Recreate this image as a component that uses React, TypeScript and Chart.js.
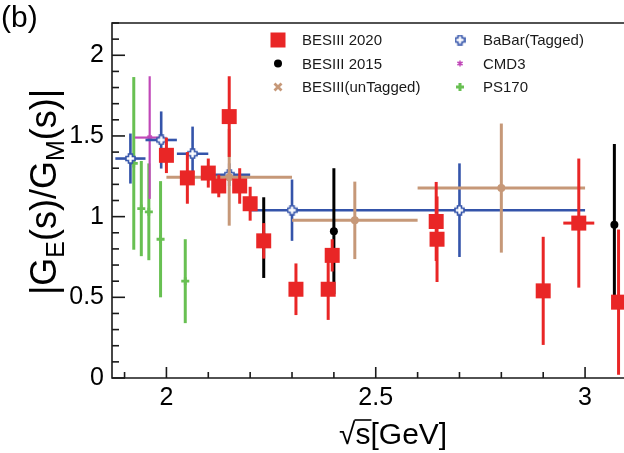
import React, { useEffect, useRef } from 'react';
import { Chart, registerables } from 'chart.js';

Chart.register(...registerables);

const FONT = '"Liberation Sans", Arial, Helvetica, sans-serif';

// axis ranges and tick labels
const X_MIN = 1.87;
const X_MAX = 3.093;
const Y_MIN = 0;
const Y_MAX = 2.2;
const X_TICKS = [2, 2.5, 3];
const Y_TICKS = [0, 0.5, 1, 1.5, 2];

// BESIII 2020
const bes20X = [2.0, 2.05, 2.1, 2.125, 2.15, 2.175, 2.2, 2.2324, 2.3094, 2.3864, 2.396, 2.6444, 2.6464, 2.9, 2.985, 3.08];
const bes20Y = [1.38, 1.24, 1.27, 1.19, 1.62, 1.19, 1.08, 0.85, 0.55, 0.55, 0.76, 0.97, 0.86, 0.54, 0.96, 0.47];
const bes20Err = [0.11, 0.16, 0.09, 0.07, 0.25, 0.11, 0.105, 0.11, 0.16, 0.19, 0.1, 0.245, 0.265, 0.335, 0.4, 0.45];
const bes20XErr = [0, 0, 0, 0, 0, 0, 0, 0, 0, 0, 0, 0, 0, 0, 0.037, 0];

// BESIII 2015
const bes15X = [2.2324, 2.4, 3.07];
const bes15Y = [0.87, 0.91, 0.95];
const bes15Err = [0.25, 0.39, 0.5];

// BESIII (unTagged)
const untagX = [2.15, 2.45, 2.8];
const untagY = [1.244, 0.977, 1.177];
const untagErr = [0.3, 0.24, 0.4];
const untagXErr = [0.15, 0.15, 0.2];

// BaBar (Tagged)
const babarX = [1.914, 1.9875, 2.0625, 2.15, 2.3, 2.7];
const babarY = [1.36, 1.475, 1.39, 1.26, 1.04, 1.04];
const babarErr = [0.155, 0.177, 0.168, 0.07, 0.19, 0.29];
const babarXErr = [0.036, 0.0375, 0.0375, 0.05, 0.1, 0.3];

// CMD3
const cmd3X = [1.96];
const cmd3Y = [1.49];
const cmd3Err = [0.38];
const cmd3XErr = [0.035];

// PS170
const ps170X = [1.922, 1.94, 1.958, 1.986, 2.045];
const ps170Y = [1.33, 1.05, 1.03, 0.86, 0.6];
const ps170Err = [0.535, 0.295, 0.3, 0.36, 0.26];

const LEGEND_LABELS = ['BESIII 2020', 'BESIII 2015', 'BESIII(unTagged)', 'BaBar(Tagged)', 'CMD3', 'PS170'];

const RED = 'rgb(233,38,38)';
const BLACK = '#000000';
const TAN = 'rgb(198,152,120)';
const BLUE = 'rgb(52,84,170)';
const MAGENTA = 'rgb(192,72,184)';
const GREEN = 'rgb(104,192,82)';

function pts(xs: number[], ys: number[]) {
  return xs.map((x, i) => ({ x, y: ys[i] }));
}

function makeOpenCross(color: string, size: number) {
  const c = document.createElement('canvas');
  c.width = size;
  c.height = size;
  const g = c.getContext('2d') as CanvasRenderingContext2D;
  const s = size;
  const a = s * 0.18;
  const m = s / 2;
  const e = 1;
  g.beginPath();
  g.moveTo(m - a, e);
  g.lineTo(m + a, e);
  g.lineTo(m + a, m - a);
  g.lineTo(s - e, m - a);
  g.lineTo(s - e, m + a);
  g.lineTo(m + a, m + a);
  g.lineTo(m + a, s - e);
  g.lineTo(m - a, s - e);
  g.lineTo(m - a, m + a);
  g.lineTo(e, m + a);
  g.lineTo(e, m - a);
  g.lineTo(m - a, m - a);
  g.closePath();
  g.fillStyle = '#ffffff';
  g.fill();
  g.strokeStyle = color;
  g.lineWidth = 1.6;
  g.stroke();
  return c;
}

const errorBarPlugin = {
  id: 'errbars',
  beforeDatasetDraw(chart: any, args: any) {
    const ds: any = chart.data.datasets[args.index];
    if (!ds.errY) return;
    const { ctx, chartArea } = chart;
    const xs = chart.scales.x;
    const ys = chart.scales.y;
    ctx.save();
    ctx.beginPath();
    ctx.rect(chartArea.left, chartArea.top, chartArea.right - chartArea.left, chartArea.bottom - chartArea.top);
    ctx.clip();
    ctx.strokeStyle = ds.errColor;
    ctx.lineWidth = ds.errWidth;
    ctx.lineCap = 'butt';
    ds.data.forEach((p: any, i: number) => {
      const px = xs.getPixelForValue(p.x);
      const py = ys.getPixelForValue(p.y);
      const ey = ds.errY[i];
      if (ey) {
        ctx.beginPath();
        ctx.moveTo(px, ys.getPixelForValue(p.y + ey));
        ctx.lineTo(px, ys.getPixelForValue(p.y - ey));
        ctx.stroke();
      }
      const ex = ds.errX ? ds.errX[i] : 0;
      if (ex) {
        ctx.beginPath();
        ctx.moveTo(xs.getPixelForValue(p.x - ex), py);
        ctx.lineTo(xs.getPixelForValue(p.x + ex), py);
        ctx.stroke();
      }
    });
    ctx.restore();
  },
};

const framePlugin = {
  id: 'frame',
  afterDatasetsDraw(chart: any) {
    const { ctx, chartArea } = chart;
    const xs = chart.scales.x;
    const ys = chart.scales.y;
    const L = chartArea.left;
    const R = chartArea.right;
    const T = chartArea.top;
    const B = chartArea.bottom;
    ctx.save();
    ctx.strokeStyle = '#1a1a1a';
    ctx.lineWidth = 1.6;
    ctx.beginPath();
    ctx.moveTo(R + 2, T);
    ctx.lineTo(L, T);
    ctx.lineTo(L, B);
    ctx.lineTo(R + 2, B);
    ctx.stroke();
    // y ticks (inward)
    for (let k = 0; k <= 22; k++) {
      const v = k / 10;
      const py = ys.getPixelForValue(v);
      const major = k % 5 === 0;
      ctx.beginPath();
      ctx.moveTo(L, py);
      ctx.lineTo(L + (major ? 13 : 7), py);
      ctx.stroke();
    }
    // x ticks (inward)
    for (let k = 19; k <= 30; k++) {
      const v = k / 10;
      const px = xs.getPixelForValue(v);
      const major = k % 5 === 0;
      ctx.beginPath();
      ctx.moveTo(px, B);
      ctx.lineTo(px, B - (major ? 11 : 6));
      ctx.stroke();
    }
    ctx.restore();
  },
  afterDraw(chart: any) {
    const { ctx } = chart;
    ctx.save();
    ctx.fillStyle = '#000';
    // panel label
    ctx.font = `30px ${FONT}`;
    ctx.textBaseline = 'middle';
    ctx.textAlign = 'left';
    ctx.fillText('(b)', 1, 19);

    // x title: sqrt(s)[GeV]
    const fx = 30;
    ctx.font = `${fx}px ${FONT}`;
    ctx.textBaseline = 'alphabetic';
    const xBase = 444;
    let xx = 339;
    const wr = ctx.measureText('\u221A').width;
    ctx.fillText('\u221A', xx, xBase);
    xx += wr;
    const ws = ctx.measureText('s').width;
    ctx.fillText('s', xx, xBase);
    ctx.strokeStyle = '#000';
    ctx.lineWidth = 1.6;
    ctx.beginPath();
    ctx.moveTo(xx - 1, xBase - fx * 0.8);
    ctx.lineTo(xx + ws + 1, xBase - fx * 0.8);
    ctx.stroke();
    xx += ws;
    ctx.fillText('[GeV]', xx, xBase);

    // y title |G_E(s)/G_M(s)|
    const fy = 36;
    const fs = 25;
    const parts: [string, boolean][] = [['|G', false], ['E', true], ['(s)/G', false], ['M', true], ['(s)|', false]];
    let total = 0;
    parts.forEach(([t, sub]) => {
      ctx.font = `${sub ? fs : fy}px ${FONT}`;
      total += ctx.measureText(t).width;
    });
    ctx.translate(56, 192);
    ctx.rotate(-Math.PI / 2);
    let tx = -total / 2;
    ctx.textAlign = 'left';
    ctx.textBaseline = 'alphabetic';
    parts.forEach(([t, sub]) => {
      ctx.font = `${sub ? fs : fy}px ${FONT}`;
      ctx.fillText(t, tx, sub ? 8 : 0);
      tx += ctx.measureText(t).width;
    });
    ctx.setTransform(1, 0, 0, 1, 0, 0);

    // legend
    const colX = [278, 460];
    const textX = [302, 483];
    const rowY = [40, 63.5, 87];
    ctx.font = `15px ${FONT}`;
    ctx.textBaseline = 'middle';
    ctx.textAlign = 'left';
    LEGEND_LABELS.forEach((lab, i) => {
      const c = Math.floor(i / 3);
      const r = i % 3;
      const cx = colX[c];
      const cy = rowY[r];
      ctx.fillStyle = '#1a1a1a';
      ctx.fillText(lab, textX[c], cy + 1);
      if (i === 0) {
        ctx.fillStyle = RED;
        ctx.fillRect(cx - 7.5, cy - 7.5, 15, 15);
      } else if (i === 1) {
        ctx.fillStyle = BLACK;
        ctx.beginPath();
        ctx.arc(cx, cy, 4, 0, Math.PI * 2);
        ctx.fill();
      } else if (i === 2) {
        ctx.strokeStyle = TAN;
        ctx.lineWidth = 2.8;
        ctx.beginPath();
        ctx.moveTo(cx - 3.5, cy - 3.5);
        ctx.lineTo(cx + 3.5, cy + 3.5);
        ctx.moveTo(cx + 3.5, cy - 3.5);
        ctx.lineTo(cx - 3.5, cy + 3.5);
        ctx.stroke();
      } else if (i === 3) {
        ctx.drawImage(babarImg, cx - 5.5, cy - 5.5);
      } else if (i === 4) {
        ctx.strokeStyle = MAGENTA;
        ctx.lineWidth = 1.5;
        ctx.beginPath();
        for (let k = 0; k < 3; k++) {
          const a = (k * Math.PI) / 3 + Math.PI / 2;
          ctx.moveTo(cx + 3 * Math.cos(a), cy + 3 * Math.sin(a));
          ctx.lineTo(cx - 3 * Math.cos(a), cy - 3 * Math.sin(a));
        }
        ctx.stroke();
      } else if (i === 5) {
        ctx.strokeStyle = GREEN;
        ctx.lineWidth = 3;
        ctx.beginPath();
        ctx.moveTo(cx - 4, cy);
        ctx.lineTo(cx + 4, cy);
        ctx.moveTo(cx, cy - 4);
        ctx.lineTo(cx, cy + 4);
        ctx.stroke();
      }
    });
    ctx.restore();
  },
};

let babarImg: HTMLCanvasElement;

export default function App() {
  const ref = useRef<HTMLCanvasElement | null>(null);
  useEffect(() => {
    if (!ref.current) return;
    babarImg = makeOpenCross(BLUE, 11);
    const chart = new Chart(ref.current, {
      type: 'scatter',
      data: {
        datasets: [
          {
            label: LEGEND_LABELS[0],
            data: pts(bes20X, bes20Y),
            order: 0,
            pointStyle: 'rect',
            pointRadius: 10.6,
            backgroundColor: RED,
            borderColor: RED,
            borderWidth: 0,
            errY: bes20Err,
            errX: bes20XErr,
            errColor: RED,
            errWidth: 3,
          } as any,
          {
            label: LEGEND_LABELS[1],
            data: pts(bes15X, bes15Y),
            order: 1,
            pointStyle: 'circle',
            pointRadius: 4,
            backgroundColor: BLACK,
            borderColor: BLACK,
            borderWidth: 0,
            errY: bes15Err,
            errColor: BLACK,
            errWidth: 3,
          } as any,
          {
            label: LEGEND_LABELS[2],
            data: pts(untagX, untagY),
            order: 2,
            pointStyle: 'circle',
            pointRadius: 4,
            backgroundColor: TAN,
            borderColor: TAN,
            borderWidth: 0,
            errY: untagErr,
            errX: untagXErr,
            errColor: TAN,
            errWidth: 3,
          } as any,
          {
            label: LEGEND_LABELS[3],
            data: pts(babarX, babarY),
            order: 3,
            pointStyle: makeOpenCross(BLUE, 11),
            pointRadius: 5,
            backgroundColor: BLUE,
            borderColor: BLUE,
            errY: babarErr,
            errX: babarXErr,
            errColor: BLUE,
            errWidth: 2.6,
          } as any,
          {
            label: LEGEND_LABELS[4],
            data: pts(cmd3X, cmd3Y),
            order: 4,
            pointStyle: 'star',
            pointRadius: 3,
            backgroundColor: MAGENTA,
            borderColor: MAGENTA,
            borderWidth: 1.5,
            errY: cmd3Err,
            errX: cmd3XErr,
            errColor: MAGENTA,
            errWidth: 2.2,
          } as any,
          {
            label: LEGEND_LABELS[5],
            data: pts(ps170X, ps170Y),
            order: 5,
            pointStyle: 'cross',
            pointRadius: 4,
            backgroundColor: GREEN,
            borderColor: GREEN,
            borderWidth: 2.8,
            errY: ps170Err,
            errColor: GREEN,
            errWidth: 3,
          } as any,
        ],
      },
      options: {
        animation: false,
        responsive: false,
        devicePixelRatio: 1,
        layout: { autoPadding: false, padding: { top: 22, right: 0, bottom: 0, left: 0 } },
        plugins: { legend: { display: false }, tooltip: { enabled: false } },
        scales: {
          x: {
            type: 'linear',
            min: X_MIN,
            max: X_MAX,
            grid: { display: false, drawTicks: false },
            border: { display: false },
            afterBuildTicks: (s: any) => {
              s.ticks = X_TICKS.map((v) => ({ value: v }));
            },
            afterFit: (s: any) => {
              s.height = 75;
            },
            ticks: {
              autoSkip: false,
              maxRotation: 0,
              padding: 5,
              color: '#000',
              font: { family: FONT, size: 25 },
              callback: (v: any) => String(v),
            },
          },
          y: {
            type: 'linear',
            min: Y_MIN,
            max: Y_MAX,
            grid: { display: false, drawTicks: false },
            border: { display: false },
            afterBuildTicks: (s: any) => {
              s.ticks = Y_TICKS.map((v) => ({ value: v }));
            },
            afterFit: (s: any) => {
              s.width = 112;
            },
            ticks: {
              padding: 8,
              color: '#000',
              font: { family: FONT, size: 25 },
              callback: (v: any) => String(v),
            },
          },
        },
      } as any,
      plugins: [errorBarPlugin, framePlugin],
    });
    return () => chart.destroy();
  }, []);
  return (
    <div style={{ position: 'fixed', left: 0, top: 0, width: 624, height: 453, overflow: 'hidden', background: '#fff' }}>
      <canvas ref={ref} width={624} height={453} style={{ display: 'block', width: 624, height: 453 }} />
    </div>
  );
}
